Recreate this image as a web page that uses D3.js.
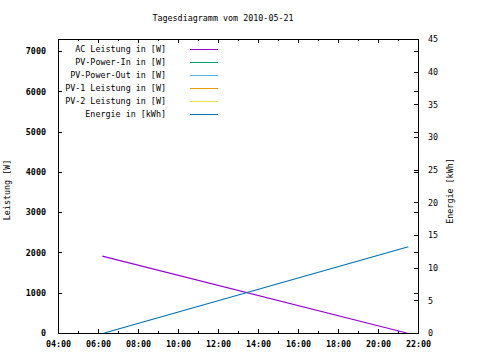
<!DOCTYPE html>
<html><head><meta charset="utf-8">
<script src="https://cdn.jsdelivr.net/npm/d3@7"></script>
<style>
body{margin:0;background:#fff;}
text{font-family:"DejaVu Sans Mono",monospace;font-size:8.4px;fill:#000;}
</style></head>
<body><svg id="c" width="480" height="360"></svg>
<script>
const title = "Tagesdiagramm vom 2010-05-21";
const xTickLabels = ["04:00","06:00","08:00","10:00","12:00","14:00","16:00","18:00","20:00","22:00"];
const yLeftTicks = [0,1000,2000,3000,4000,5000,6000,7000];
const yRightTicks = [0,5,10,15,20,25,30,35,40,45];
const seriesNames = ["AC Leistung in [W]","PV-Power-In in [W]","PV-Power-Out in [W]","PV-1 Leistung in [W]","PV-2 Leistung in [W]","Energie in [kWh]"];
const seriesColors = ["#9400d3","#009e73","#56b4e9","#e69f00","#f0e442","#0072b2"];
const acTimes = ["06:13","21:26"];
const acValues = [1910, 0];
const energieTimes = ["06:19","21:31"];
const energieValues = [0, 13.2];

const hrs = s => { const [h,m] = s.split(":").map(Number); return h + m/60; };
const L = 58, R = 418, T = 39, B = 333;
const svg = d3.select("#c");
const x = d3.scaleLinear().domain([hrs(xTickLabels[0]), hrs(xTickLabels[xTickLabels.length-1])]).range([L,R]);
const yL = d3.scaleLinear().domain([0,7300]).range([B,T]);
const yR = d3.scaleLinear().domain([0,45]).range([B,T]);

svg.append("text").attr("x",223).attr("y",21).attr("text-anchor","middle").text(title);

const majors = xTickLabels.map(hrs);
const minors = d3.range(majors[0], majors[majors.length-1]+0.01, 1);
function clean(g){ g.select(".domain").remove(); g.selectAll("line").attr("stroke","#000").attr("shape-rendering","crispEdges"); g.selectAll("text").style("font-family",null).attr("font-size",null); }

svg.append("g").attr("transform",`translate(0,${B})`)
  .call(d3.axisBottom(x).tickValues(minors).tickSize(-2).tickFormat("")).call(clean);
svg.append("g").attr("transform",`translate(0,${B})`)
  .call(d3.axisBottom(x).tickValues(majors).tickSize(-4).tickPadding(8).tickFormat((d,i)=>xTickLabels[i])).call(clean)
  .selectAll("text").attr("font-weight","bold");
svg.append("g").attr("transform",`translate(0,${T})`)
  .call(d3.axisTop(x).tickValues(minors).tickSize(-2).tickFormat("")).call(clean);
svg.append("g").attr("transform",`translate(0,${T})`)
  .call(d3.axisTop(x).tickValues(majors).tickSize(-4).tickFormat("")).call(clean);

svg.append("g").attr("transform",`translate(${L},0)`)
  .call(d3.axisLeft(yL).tickValues(yLeftTicks).tickSize(-4).tickPadding(12).tickFormat(d3.format("d"))).call(clean)
  .selectAll("text").attr("font-weight","bold");
svg.append("g").attr("transform",`translate(${R},0)`)
  .call(d3.axisLeft(yL).tickValues(yLeftTicks).tickSize(4).tickFormat("")).call(clean);
svg.append("g").attr("transform",`translate(${R},0)`)
  .call(d3.axisRight(yR).tickValues(yRightTicks).tickSize(-4).tickPadding(10).tickFormat(d3.format("d"))).call(clean);

svg.append("rect").attr("x",L+0.5).attr("y",T+0.5).attr("width",R-L).attr("height",B-T)
  .attr("fill","none").attr("stroke","#000").attr("shape-rendering","crispEdges");

svg.append("text").attr("transform","translate(10,190) rotate(-90)").attr("text-anchor","middle").text("Leistung [W]");
svg.append("text").attr("transform","translate(453,191) rotate(-90)").attr("text-anchor","middle").text("Energie [kWh]");

const line = (ys) => d3.line().x(d=>x(hrs(d.t))).y(d=>ys(d.v));
svg.append("path").datum(acTimes.map((t,i)=>({t,v:acValues[i]})))
  .attr("d",line(yL)).attr("fill","none").attr("stroke",seriesColors[0]).attr("stroke-width",1.2);
svg.append("path").datum(energieTimes.map((t,i)=>({t,v:energieValues[i]})))
  .attr("d",line(yR)).attr("fill","none").attr("stroke",seriesColors[5]).attr("stroke-width",1.2);

const lg = svg.append("g");
seriesNames.forEach((n,i)=>{
  const cy = 49 + 13*i;
  lg.append("text").attr("x",166).attr("y",cy+3).attr("text-anchor","end").text(n);
  lg.append("line").attr("x1",190).attr("x2",218).attr("y1",cy+0.5).attr("y2",cy+0.5)
    .attr("stroke",seriesColors[i]).attr("stroke-width",1).attr("shape-rendering","crispEdges");
});
</script></body></html>
